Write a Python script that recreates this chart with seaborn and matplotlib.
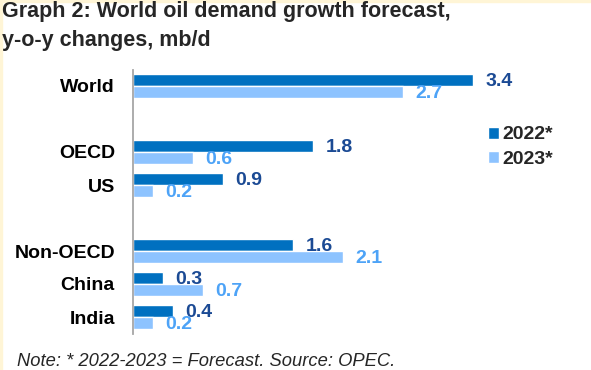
import matplotlib
matplotlib.use("Agg")
import matplotlib.pyplot as plt
from matplotlib.patches import Rectangle
import pandas as pd
import seaborn as sns

# Data (mb/d)
regions = ["World", "OECD", "US", "Non-OECD", "China", "India"]
growth_2022 = [3.4, 1.8, 0.9, 1.6, 0.3, 0.4]
growth_2023 = [2.7, 0.6, 0.2, 2.1, 0.7, 0.2]
years = ["2022*", "2023*"]

# blank slots give the gaps between groups
order = ["World", " ", "OECD", "US", "  ", "Non-OECD", "China", "India"]

df = pd.DataFrame({
    "region": regions * 2,
    "value": growth_2022 + growth_2023,
    "year": [years[0]] * len(regions) + [years[1]] * len(regions),
})

bar_colors = {"2022*": "#0070C0", "2023*": "#8DC3FF"}
label_colors = {"2022*": "#1B4A94", "2023*": "#4DA3F7"}

sns.set_theme(style="white")
plt.rcParams["font.family"] = ["Liberation Sans", "DejaVu Sans"]

fig = plt.figure(figsize=(5.91, 3.70), dpi=100)
ax = fig.add_axes([133 / 591, 36.5 / 370, 455 / 591, 264 / 370])

sns.barplot(
    data=df,
    x="value",
    y="region",
    hue="year",
    order=order,
    hue_order=years,
    palette=bar_colors,
    saturation=1,
    width=0.75,
    orient="h",
    ax=ax,
)

ax.set_xlim(0, 4.55)
ax.set_ylim(7.5, -0.5)

# value labels
for year, container in zip(years, ax.containers):
    for bar in container:
        w = bar.get_width()
        ax.annotate(
            f"{w:.1f}",
            xy=(w, bar.get_y() + bar.get_height() / 2),
            xytext=(9, -1),
            textcoords="offset points",
            va="center",
            ha="left",
            fontsize=14,
            fontweight="bold",
            color=label_colors[year],
        )

ax.set_xlabel("")
ax.set_ylabel("")
ax.set_xticks([])
ax.tick_params(axis="y", length=0, pad=13)
for lbl in ax.get_yticklabels():
    lbl.set_fontsize(14)
    lbl.set_fontweight("bold")
    lbl.set_color("black")

for side in ["top", "right", "bottom"]:
    ax.spines[side].set_visible(False)
ax.spines["left"].set_color("#A6A6A6")
ax.spines["left"].set_linewidth(1.3)

handles, labels = ax.get_legend_handles_labels()
ax.legend(
    handles,
    labels,
    loc="upper left",
    bbox_to_anchor=(488 / 591, 1 - 126.5 / 370),
    bbox_transform=fig.transFigure,
    frameon=False,
    borderpad=0,
    borderaxespad=0,
    handlelength=0.56,
    handleheight=0.56,
    handletextpad=0.2,
    labelspacing=0.38,
    prop={"size": 14, "weight": "bold"},
)

# title and note
fig.text(2 / 591, 1 - 16.7 / 370, "Graph 2: World oil demand growth forecast,",
         fontsize=15.5, fontweight="bold", va="baseline", ha="left")
fig.text(2 / 591, 1 - 45.7 / 370, "y-o-y changes, mb/d",
         fontsize=15.5, fontweight="bold", va="baseline", ha="left")
fig.text(17 / 591, 1 - 366 / 370, "Note: * 2022-2023 = Forecast. Source: OPEC.",
         fontsize=13.2, fontstyle="italic", va="baseline", ha="left")

# thin cream frame on the left and top edges
fig.patches.append(Rectangle((0, 0), 2 / 591, 1, transform=fig.transFigure,
                             color="#FFF5D6", zorder=0))
fig.patches.append(Rectangle((0, 1 - 1.5 / 370), 1, 1.5 / 370, transform=fig.transFigure,
                             color="#FFF5D6", zorder=0))

fig.savefig("out.png", dpi=100)
